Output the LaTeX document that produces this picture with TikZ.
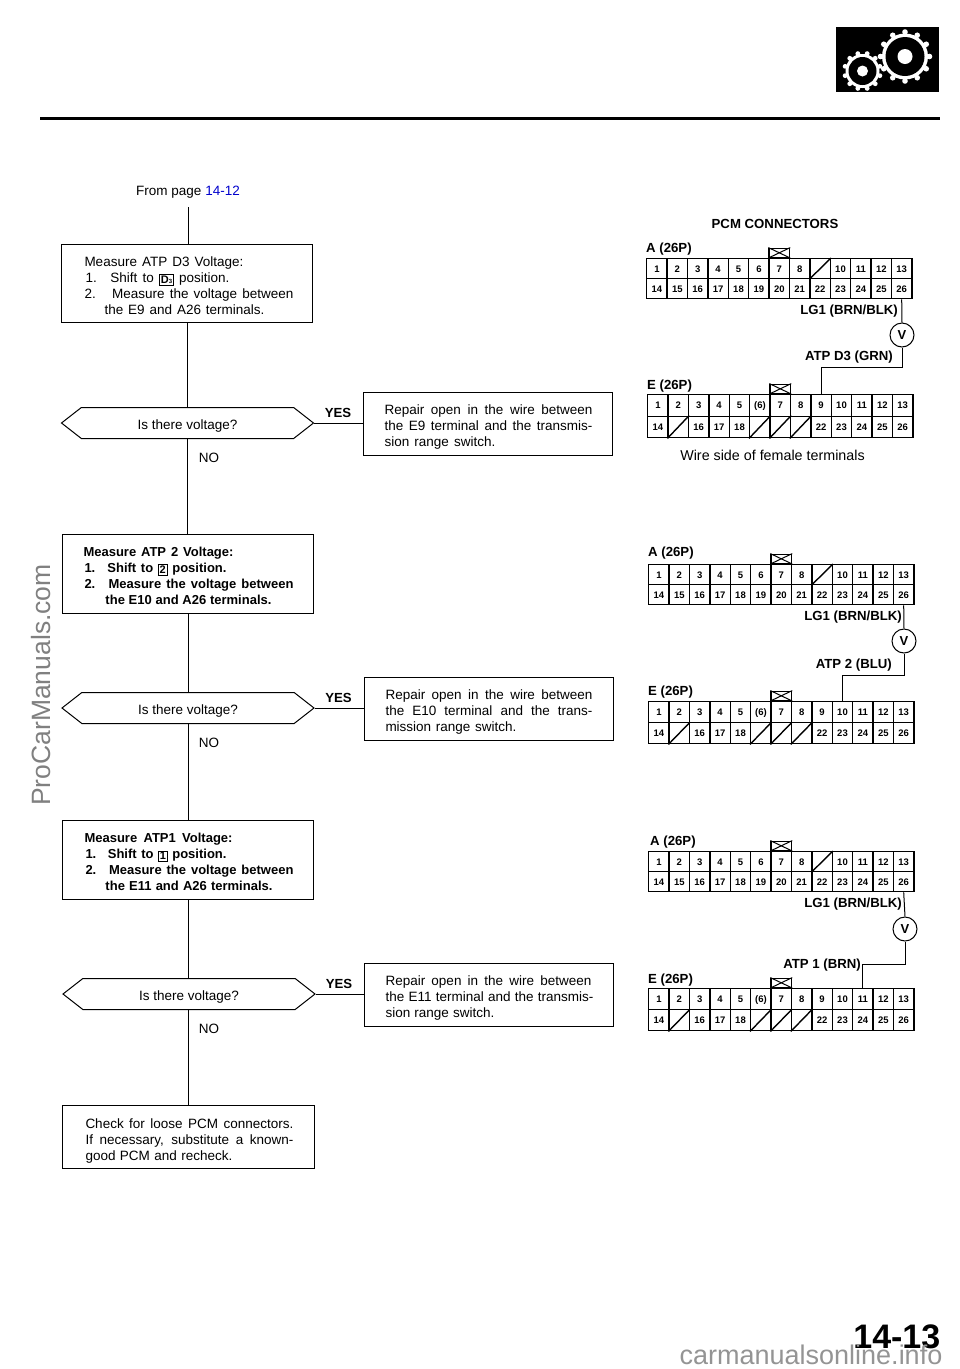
\documentclass[tikz,border=0pt]{standalone}
\usepackage{fontspec}
\setmainfont{Liberation Sans}
\usepackage{tikz}
\usetikzlibrary{positioning,shapes.symbols}

\tikzset{
    stepbox/.style={draw, line width=1pt, inner xsep=11pt, inner ysep=0pt, text width=229pt, align=left, anchor=north west, font=\fontsize{13.5}{16}\selectfont},
    boldbox/.style={stepbox, font=\fontsize{13}{16}\selectfont\bfseries},
    askbox/.style={draw, line width=1pt, signal, signal to=east and west, signal pointer angle=76, minimum width=252pt, minimum height=31pt, inner sep=0pt, font=\fontsize{13.5}{16}\selectfont},
    cellbox/.style={draw, line width=1.4pt, anchor=north west, inner sep=0pt, text height=7pt, text depth=0pt, font=\fontsize{9.5}{10}\selectfont\bfseries},
    keybox/.style={draw, line width=1.4pt, minimum height=9pt, inner sep=0pt},
    pinlabel/.style={font=\fontsize{13.2}{15}\selectfont\bfseries, inner sep=0pt},
    plainlabel/.style={font=\fontsize{13.5}{16}\selectfont, inner sep=0pt},
    wire/.style={line width=1pt},
    flowline/.style={line width=1pt},
    meter/.style={draw, circle, line width=1pt, minimum size=24pt, inner sep=0pt, font=\fontsize{13}{14}\selectfont\bfseries}
}

\newcommand{\topgap}[1]{\rule{0pt}{#1pt}}
\newcommand{\fitline}[3]{\hspace*{#1pt}\makebox[#2pt][s]{\spaceskip=0pt\xspaceskip=0pt #3}}
\newcommand{\shiftkey}[1]{{\setlength{\fboxsep}{1pt}\setlength{\fboxrule}{0.8pt}\raisebox{-1pt}{\fbox{\fontsize{11}{11}\selectfont\bfseries #1}}}}
\def\pcmlabelsA{1,2,3,4,5,6,7,8,{},10,11,12,13,14,15,16,17,18,19,20,21,22,23,24,25,26}
\def\pcmlabelsE{1,2,3,4,5,{(6)},7,8,9,10,11,12,13,14,{},16,17,18,{},{},{},22,23,24,25,26}

% name, left, top, cell width, cell height, labels, blank cells
\newcommand{\pcmblock}[7]{
    \foreach \lab [count=\n] in #6 {
        \pgfmathtruncatemacro{\col}{mod(\n-1,13)}
        \pgfmathtruncatemacro{\row}{(\n-1)/13}
        \node[cellbox, minimum width=#4pt, minimum height=#5pt] (#1c\n) at (#2+#4*\col,#3+#5*\row) {\lab};
    }
    \foreach \s in {#7} {
        \draw[line width=1.4pt] (#1c\s.south west) -- (#1c\s.north east);
    }
    \node[keybox, minimum width=#4pt, above=0pt of #1c7] (#1key) {};
    \draw[line width=1pt] (#1key.north west) -- (#1key.south east);
    \draw[line width=1pt] (#1key.south west) -- (#1key.north east);
}

\begin{document}
\begin{tikzpicture}[x=1pt,y=-1pt]
    \useasboundingbox (0,0) rectangle (960,1369);

    % Cabecera
    \fill[black] (836,27) rectangle (939,92);
    \fill[white] (905,56.5) circle (23);
    \foreach \a in {0,30,...,330} {
        \fill[white] (905,56.5) ++(\a:24.5) circle (2.8);
    }
    \fill[white] (862.5,71) circle (17);
    \foreach \a in {15,45,...,345} {
        \fill[white] (862.5,71) ++(\a:18) circle (2.4);
    }
    \fill[black] (905,56.5) circle (19.5);
    \fill[white] (905,56.5) circle (7.5);
    \fill[black] (862.5,71) circle (14);
    \fill[white] (862.5,71) circle (5.5);
    \draw[line width=2.6pt] (40,118.5) -- (940,118.5);

    % Diagrama de flujo
    \node[plainlabel] (frompage) at (188,192.5) {From page \textcolor{blue!80!black}{14-12}};
    \coordinate (fromend) at (188,207);

    \node[stepbox, minimum height=78pt] (measureD) at (61,244) {\topgap{14}%
        \fitline{12}{159}{Measure ATP D3 Voltage:}\\
        \fitline{13}{144}{1.\hspace{4pt} Shift to \shiftkey{D\raisebox{0pt}{\fontsize{6}{6}\selectfont 3}} position.}\\
        \fitline{12}{209}{2.\hspace{7pt} Measure the voltage between}\\
        \fitline{32}{160}{the E9 and A26 terminals.}};
    \node[askbox] (askD) at (187.5,423) {\topgap{16}Is there voltage?};
    \node[stepbox, text width=227pt, minimum height=63pt] (repairD) at (363,392) {\topgap{16}%
        \fitline{10}{208}{Repair open in the wire between}\\
        \fitline{10}{208}{the E9 terminal and the transmis-}\\
        \fitline{10}{111}{sion range switch.}};
    \node[pinlabel] (yesD) at (338,412.5) {YES};
    \node[plainlabel] (noD) at (209,458) {NO};

    \node[boldbox, minimum height=79pt] (measureTwo) at (62,534) {\topgap{14}%
        \fitline{10}{150}{Measure ATP 2 Voltage:}\\
        \fitline{11}{142}{1.\hspace{4pt} Shift to \shiftkey{2} position.}\\
        \fitline{11}{209}{2.\hspace{4pt} Measure the voltage between}\\
        \fitline{32}{166}{the E10 and A26 terminals.}};
    \node[askbox] (askTwo) at (188,708) {\topgap{16}Is there voltage?};
    \node[stepbox, text width=227pt, minimum height=63pt] (repairTwo) at (364,677) {\topgap{16}%
        \fitline{10}{207}{Repair open in the wire between}\\
        \fitline{10}{207}{the E10 terminal and the trans-}\\
        \fitline{10}{131}{mission range switch.}};
    \node[pinlabel] (yesTwo) at (338.5,697.5) {YES};
    \node[plainlabel] (noTwo) at (209,743) {NO};

    \node[boldbox, minimum height=79pt] (measureOne) at (62,820) {\topgap{14}%
        \fitline{11}{148}{Measure ATP1 Voltage:}\\
        \fitline{12}{141}{1.\hspace{4pt} Shift to \shiftkey{1} position.}\\
        \fitline{12}{208}{2.\hspace{4pt} Measure the voltage between}\\
        \fitline{32}{167}{the E11 and A26 terminals.}};
    \node[askbox] (askOne) at (189,994) {\topgap{16}Is there voltage?};
    \node[stepbox, text width=227pt, minimum height=63pt] (repairOne) at (364,963) {\topgap{16}%
        \fitline{10}{206}{Repair open in the wire between}\\
        \fitline{10}{208}{the E11 terminal and the transmis-}\\
        \fitline{10}{109}{sion range switch.}};
    \node[pinlabel] (yesOne) at (339,983.5) {YES};
    \node[plainlabel] (noOne) at (209,1029) {NO};

    \node[stepbox, text width=230pt, minimum height=63pt] (checkPCM) at (62,1105) {\topgap{18}%
        \fitline{12}{208}{Check for loose PCM connectors.}\\
        \fitline{12}{208}{If necessary, substitute a known-}\\
        \fitline{12}{147}{good PCM and recheck.}};

    \draw[flowline] (fromend) -- (fromend |- measureD.north);
    \draw[flowline] (askD.north -| measureD.south) -- (measureD.south);
    \draw[flowline] (askD.south -| measureD.south) -- (measureD.south |- measureTwo.north);
    \draw[flowline] (measureTwo.south) -- (measureTwo.south |- askTwo.north);
    \draw[flowline] (measureTwo.south |- askTwo.south) -- (measureOne.north);
    \draw[flowline] (measureOne.south) -- (measureOne.south |- askOne.north);
    \draw[flowline] (measureOne.south |- askOne.south) -- (measureOne.south |- checkPCM.north);
    \draw[flowline] (askD.east) -- (askD.east -| repairD.west);
    \draw[flowline] (askTwo.east) -- (askTwo.east -| repairTwo.west);
    \draw[flowline] (askOne.east) -- (askOne.east -| repairOne.west);

    % Conectores PCM
    \node[pinlabel] (pcmtitle) at (775,224) {PCM CONNECTORS};

    \pcmblock{AD}{646}{258}{20.4}{20}{\pcmlabelsA}{9}
    \pcmblock{ED}{647}{394}{20.4}{21.5}{\pcmlabelsE}{15,19,20,21}
    \node[pinlabel, anchor=west] (adname) at (646,249) {A (26P)};
    \node[pinlabel, anchor=west] (edname) at (647,386) {E (26P)};
    \node[pinlabel, anchor=east] (lgD) at (898,311) {LG1 (BRN/BLK)};
    \node[pinlabel, anchor=east] (atpD) at (893,357) {ATP D3 (GRN)};
    \node[meter] (voltD) at (902,335) {V};
    \node[plainlabel, font=\fontsize{14.3}{16}\selectfont] (wireside) at (772.5,455) {Wire side of female terminals};
    \coordinate (bendD) at (902,367);
    \draw[wire] (ADc26.south) -- (voltD.north);
    \draw[wire] (voltD.south) -- (bendD) -| (EDc9.north);

    \pcmblock{ATwo}{648}{564}{20.4}{20}{\pcmlabelsA}{9}
    \pcmblock{ETwo}{648}{701}{20.4}{21}{\pcmlabelsE}{15,19,20,21}
    \node[pinlabel, anchor=west] (atwoname) at (648,553) {A (26P)};
    \node[pinlabel, anchor=west] (etwoname) at (648,692) {E (26P)};
    \node[pinlabel, anchor=east] (lgTwo) at (902,617) {LG1 (BRN/BLK)};
    \node[pinlabel, anchor=east] (atpTwo) at (892,665) {ATP 2 (BLU)};
    \node[meter] (voltTwo) at (904,641) {V};
    \coordinate (bendTwo) at (904,675);
    \draw[wire] (ATwoc26.south) -- (voltTwo.north);
    \draw[wire] (voltTwo.south) -- (bendTwo) -| (ETwoc10.north);

    \pcmblock{AOne}{648}{851}{20.4}{20}{\pcmlabelsA}{9}
    \pcmblock{EOne}{648}{988}{20.4}{21}{\pcmlabelsE}{15,19,20,21}
    \node[pinlabel, anchor=west] (aonename) at (650,842) {A (26P)};
    \node[pinlabel, anchor=west] (eonename) at (648,980) {E (26P)};
    \node[pinlabel, anchor=east] (lgOne) at (902,904) {LG1 (BRN/BLK)};
    \node[pinlabel, anchor=east] (atpOne) at (861,965) {ATP 1 (BRN)};
    \node[meter] (voltOne) at (905,929) {V};
    \coordinate (bendOne) at (905,964);
    \draw[wire] (AOnec26.south) -- (voltOne.north);
    \draw[wire] (voltOne.south) -- (bendOne) -| (EOnec11.north);

    % Pagina y marcas
    \node[anchor=east, inner sep=0pt, font=\fontsize{34}{34}\selectfont\bfseries] (pagenum) at (940.5,1337) {14-13};
    \node[anchor=center, inner sep=0pt, text=black!42, font=\fontsize{27}{27}\selectfont] (bottommark) at (811,1355) {carmanualsonline.info};
    \node[rotate=90, inner sep=0pt, text=black!50, font=\fontsize{26.5}{27}\selectfont] (sidemark) at (41,685) {ProCarManuals.com};
\end{tikzpicture}
\end{document}
